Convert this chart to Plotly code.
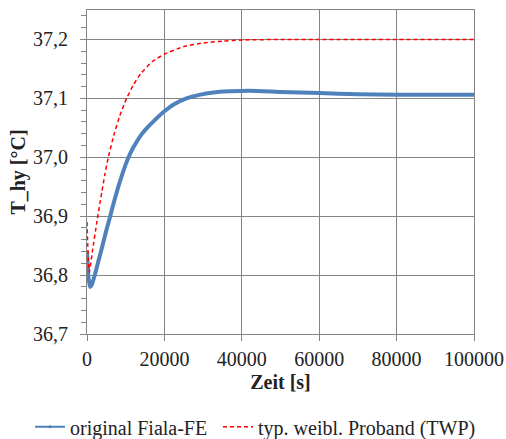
import plotly.graph_objects as go

# Data
t_blue = [0, 400, 800, 1200, 2000, 3000, 4000, 5000, 6000, 7000, 8000, 9000, 10000, 11000,
          12000, 13000, 14000, 15400, 17500, 20000, 22500, 25700, 29000, 32600, 37000,
          42000, 50000, 60000, 70000, 80000, 90000, 100000]
y_blue = [36.84, 36.795, 36.78, 36.783, 36.80, 36.825, 36.85, 36.876, 36.90, 36.925, 36.948,
          36.969, 36.988, 37.004, 37.017, 37.028, 37.038, 37.049, 37.063, 37.078, 37.090,
          37.100, 37.106, 37.110, 37.112, 37.113, 37.111, 37.109, 37.107, 37.106, 37.106,
          37.106]

t_red = [0, 200, 400, 600, 1500, 2500, 3800, 4600, 5500, 7000, 8500, 10240, 12000, 14000,
         17000, 20000, 25000, 30000, 35000, 40000, 50000, 60000, 80000, 100000]
y_red = [36.89, 36.85, 36.82, 36.805, 36.845, 36.888, 36.94, 36.97, 37.0, 37.039, 37.071,
         37.1, 37.123, 37.143, 37.163, 37.175, 37.188, 37.194, 37.197, 37.199, 37.2, 37.2,
         37.2, 37.2]

name_blue = "original Fiala-FE"
name_red = "typ. weibl. Proband (TWP)"

font = "Liberation Serif, Times New Roman, serif"
grid = "#858585"

fig = go.Figure()
fig.add_trace(go.Scatter(x=t_blue, y=y_blue, mode="lines",
                         line=dict(color="#4F81BD", width=4, shape="spline", smoothing=0.5),
                         name=name_blue, showlegend=False))
fig.add_trace(go.Scatter(x=[None], y=[None], mode="lines+markers",
                         line=dict(color="#4F81BD", width=2),
                         marker=dict(size=3, color="#4F81BD"),
                         name=name_blue, legend="legend"))
fig.add_trace(go.Scatter(x=t_red, y=y_red, mode="lines",
                         line=dict(color="#FF0000", width=1.5, dash="4px,3px",
                                   shape="spline", smoothing=0.5),
                         name=name_red, legend="legend2"))

leg_common = dict(orientation="h", xanchor="left", xref="container",
                  y=0.028, yanchor="middle", yref="container",
                  font=dict(size=20), bgcolor="rgba(0,0,0,0)")

fig.update_layout(
    width=506, height=439,
    margin=dict(l=87, r=32, t=10, b=105),
    paper_bgcolor="white", plot_bgcolor="white",
    separators=", ",
    font=dict(family=font, size=20, color="#222"),
    legend=dict(x=30 / 506, **leg_common),
    legend2=dict(x=218 / 506, **leg_common),
)
fig.update_xaxes(
    range=[0, 100000], tickvals=[0, 20000, 40000, 60000, 80000, 100000], tickformat="d",
    showgrid=True, gridcolor=grid, gridwidth=1,
    showline=True, linecolor=grid, mirror=True, linewidth=1,
    ticks="outside", ticklen=6, tickcolor=grid, ticklabelstandoff=1,
    title=dict(text="<b>Zeit [s]</b>", font=dict(size=20), standoff=5),
    zeroline=False, automargin=False,
)
fig.update_yaxes(
    range=[36.7, 37.25], tickvals=[36.7, 36.8, 36.9, 37.0, 37.1, 37.2], tickformat=".1f",
    showgrid=True, gridcolor=grid, gridwidth=1,
    showline=True, linecolor=grid, mirror=True, linewidth=1,
    ticks="outside", ticklen=6, tickcolor=grid, ticklabelstandoff=8,
    minor=dict(dtick=0.02, tick0=36.7, ticks="outside", ticklen=5, tickcolor=grid,
               showgrid=False),
    title=dict(text="<b>T_hy [°C]</b>", font=dict(size=20), standoff=2),
    zeroline=False, automargin=False,
)

fig.write_html("out.html", config={"displayModeBar": False},
               post_script="document.body.style.margin='0';")
